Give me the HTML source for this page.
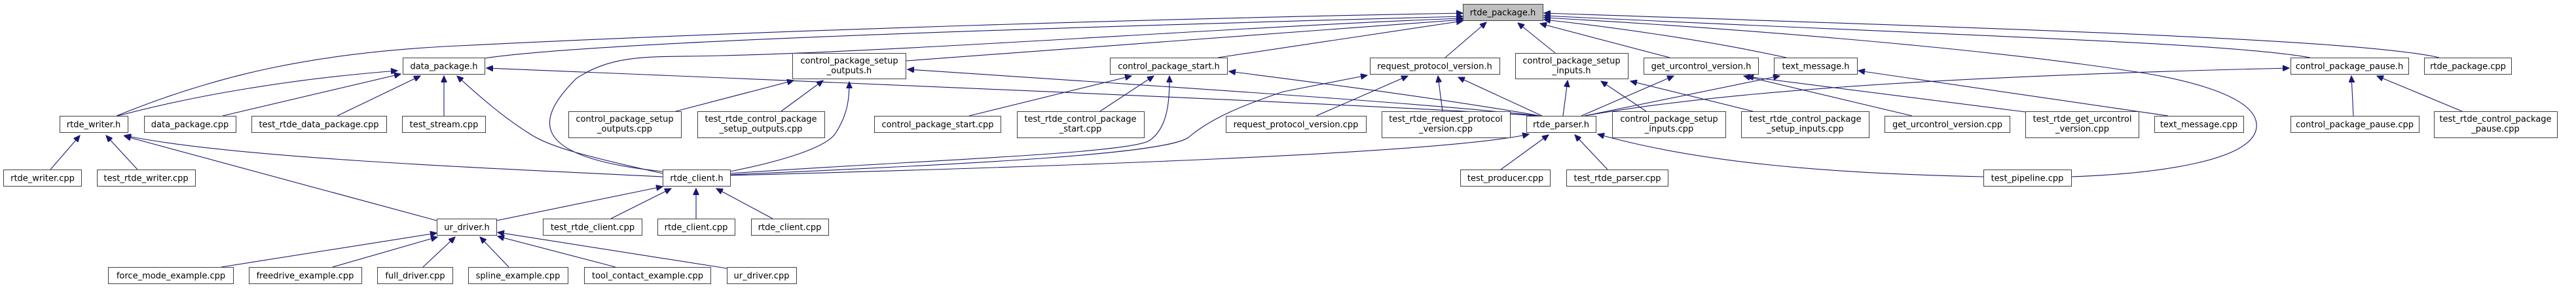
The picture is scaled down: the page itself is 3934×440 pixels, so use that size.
<!DOCTYPE html>
<html><head><meta charset="utf-8"><style>
html,body{margin:0;padding:0;background:#fff;}
svg{display:block;}
text{font-family:"DejaVu Sans","Liberation Sans",sans-serif;font-size:13px;fill:#000;}
rect{fill:#fff;stroke:#404040;stroke-width:1;}
path{fill:none;stroke:#191970;stroke-width:1.1;}
</style></head><body>
<svg width="3934" height="440" viewBox="0 0 3934 440" xmlns="http://www.w3.org/2000/svg">
<defs><marker id="a" markerWidth="11" markerHeight="9" refX="10" refY="4.5" orient="auto" markerUnits="userSpaceOnUse"><path d="M0,0 L10,4.5 L0,9 Z" style="fill:#191970;stroke:#191970"/></marker></defs>
<g marker-end="url(#a)">
<path d="M178,177 C330,115 480,80 700,70 C1200,45 1800,28 2234,20"/>
<path d="M180,177 C300,145 450,120 607,108"/>
<path d="M340,177 L612,113"/>
<path d="M515,177 L642,116"/>
<path d="M678,177 L678,116"/>
<path d="M740,89 C900,65 1500,45 2234,25"/>
<path d="M1012,265 C900,240 840,225 810,205 C770,180 735,150 698,116"/>
<path d="M1012,262 C800,240 820,180 880,120 C940,80 1000,88 1100,85 C1400,78 1900,40 2234,28"/>
<path d="M1012,270 C700,255 350,240 190,207"/>
<path d="M667,337 L190,208"/>
<path d="M77,259 L122,207"/>
<path d="M210,259 L162,207"/>
<path d="M758,337 L1012,285"/>
<path d="M933,334 L1025,288"/>
<path d="M1063,334 L1063,288"/>
<path d="M1180,334 L1094,288"/>
<path d="M338,408 L667,356"/>
<path d="M508,408 L668,362"/>
<path d="M646,408 L695,362"/>
<path d="M777,408 L733,362"/>
<path d="M940,408 L760,361"/>
<path d="M1110,410 L760,355"/>
<path d="M1032,170 L1212,123"/>
<path d="M1193,170 L1257,123"/>
<path d="M1115,262 C1200,245 1260,225 1275,205 C1295,175 1297,150 1297,125"/>
<path d="M1383,93 C1700,70 2000,45 2234,30"/>
<path d="M2350,177 C2200,160 1900,140 1386,106"/>
<path d="M2345,177 C2200,165 1500,135 743,104"/>
<path d="M1480,177 L1728,116"/>
<path d="M1680,170 L1762,116"/>
<path d="M1115,265 C1400,245 1720,235 1755,215 C1785,195 1786,150 1786,116"/>
<path d="M1860,88 L2234,32"/>
<path d="M2352,177 C2200,150 2000,125 1877,109"/>
<path d="M1115,267 C1500,250 1780,235 1815,210 C1850,180 1900,160 1960,140 L2088,115"/>
<path d="M1115,268 C1600,255 2200,235 2335,205"/>
<path d="M2010,177 L2150,116"/>
<path d="M2203,170 L2196,116"/>
<path d="M2355,177 L2227,118"/>
<path d="M2207,88 L2270,34"/>
<path d="M2375,81 L2318,35"/>
<path d="M2387,177 L2394,123"/>
<path d="M2514,170 L2445,124"/>
<path d="M2677,170 L2490,124"/>
<path d="M2550,88 L2352,36"/>
<path d="M2415,177 L2556,116"/>
<path d="M2920,177 L2663,116"/>
<path d="M3093,171 L2668,117"/>
<path d="M2728,88 C2600,60 2450,40 2358,30"/>
<path d="M2420,177 C2500,160 2600,140 2718,116"/>
<path d="M3311,177 L2838,108"/>
<path d="M3528,88 C3400,65 3000,55 2358,24"/>
<path d="M3725,88 C3600,60 3100,45 2358,20"/>
<path d="M2420,177 C2600,145 2900,118 3496,104"/>
<path d="M3594,177 L3591,116"/>
<path d="M3760,170 L3630,116"/>
<path d="M3163,270 C3300,265 3440,245 3446,195 C3452,140 3300,115 3250,108 C3000,70 2600,40 2358,27"/>
<path d="M3029,270 C2800,265 2600,250 2440,205"/>
<path d="M2292,259 L2365,206"/>
<path d="M2455,259 L2405,206"/>
</g>
<g text-anchor="middle">
<rect x="2234.5" y="6.5" width="122" height="25" style="fill:#bfbfbf"/><text x="2295" y="23.5">rtde_package.h</text>
<rect x="615.5" y="88.5" width="125" height="25"/><text x="678" y="105.5">data_package.h</text>
<rect x="91.5" y="177.5" width="104" height="25"/><text x="143" y="194.5">rtde_writer.h</text>
<rect x="220.5" y="177.5" width="140" height="25"/><text x="290" y="194.5">data_package.cpp</text>
<rect x="384.5" y="177.5" width="206" height="25"/><text x="487" y="194.5">test_rtde_data_package.cpp</text>
<rect x="614.5" y="177.5" width="127" height="25"/><text x="678" y="194.5">test_stream.cpp</text>
<rect x="5.5" y="259.5" width="119" height="25"/><text x="65" y="276.5">rtde_writer.cpp</text>
<rect x="148.5" y="259.5" width="150" height="25"/><text x="223" y="276.5">test_rtde_writer.cpp</text>
<rect x="165.5" y="408.5" width="191" height="25"/><text x="261" y="425.5">force_mode_example.cpp</text>
<rect x="380.5" y="408.5" width="172" height="25"/><text x="466" y="425.5">freedrive_example.cpp</text>
<rect x="576.5" y="408.5" width="115" height="25"/><text x="634" y="425.5">full_driver.cpp</text>
<rect x="667.5" y="334.5" width="91" height="25"/><text x="713" y="351.5">ur_driver.h</text>
<rect x="715.5" y="408.5" width="152" height="25"/><text x="791" y="425.5">spline_example.cpp</text>
<rect x="892.5" y="408.5" width="193" height="25"/><text x="989" y="425.5">tool_contact_example.cpp</text>
<rect x="1110.5" y="408.5" width="106" height="25"/><text x="1163" y="425.5">ur_driver.cpp</text>
<rect x="829.5" y="334.5" width="151" height="25"/><text x="905" y="351.5">test_rtde_client.cpp</text>
<rect x="1004.5" y="334.5" width="118" height="25"/><text x="1063" y="351.5">rtde_client.cpp</text>
<rect x="1147.5" y="334.5" width="118" height="25"/><text x="1206" y="351.5">rtde_client.cpp</text>
<rect x="1012.5" y="259.5" width="103" height="25"/><text x="1064" y="276.5">rtde_client.h</text>
<rect x="868.5" y="170.5" width="172" height="40"/><text x="954" y="186">control_package_setup</text><text x="954" y="201">_outputs.cpp</text>
<rect x="1065.5" y="170.5" width="194" height="40"/><text x="1162" y="186">test_rtde_control_package</text><text x="1162" y="201">_setup_outputs.cpp</text>
<rect x="1210.5" y="81.5" width="173" height="39"/><text x="1297" y="97">control_package_setup</text><text x="1297" y="112">_outputs.h</text>
<rect x="1335.5" y="177.5" width="193" height="25"/><text x="1432" y="194.5">control_package_start.cpp</text>
<rect x="1553.5" y="170.5" width="194" height="40"/><text x="1650" y="186">test_rtde_control_package</text><text x="1650" y="201">_start.cpp</text>
<rect x="1695.5" y="88.5" width="179" height="25"/><text x="1785" y="105.5">control_package_start.h</text>
<rect x="1872.5" y="177.5" width="214" height="25"/><text x="1979" y="194.5">request_protocol_version.cpp</text>
<rect x="2092.5" y="88.5" width="198" height="25"/><text x="2191" y="105.5">request_protocol_version.h</text>
<rect x="2314.5" y="81.5" width="172" height="39"/><text x="2400" y="97">control_package_setup</text><text x="2400" y="112">_inputs.h</text>
<rect x="2510.5" y="88.5" width="175" height="25"/><text x="2598" y="105.5">get_urcontrol_version.h</text>
<rect x="2110.5" y="170.5" width="196" height="40"/><text x="2208" y="186">test_rtde_request_protocol</text><text x="2208" y="201">_version.cpp</text>
<rect x="2331.5" y="177.5" width="106" height="25"/><text x="2384" y="194.5">rtde_parser.h</text>
<rect x="2462.5" y="170.5" width="173" height="40"/><text x="2549" y="186">control_package_setup</text><text x="2549" y="201">_inputs.cpp</text>
<rect x="2230.5" y="259.5" width="137" height="25"/><text x="2299" y="276.5">test_producer.cpp</text>
<rect x="2392.5" y="259.5" width="155" height="25"/><text x="2470" y="276.5">test_rtde_parser.cpp</text>
<rect x="2709.5" y="88.5" width="127" height="25"/><text x="2773" y="105.5">text_message.h</text>
<rect x="2659.5" y="170.5" width="195" height="40"/><text x="2757" y="186">test_rtde_control_package</text><text x="2757" y="201">_setup_inputs.cpp</text>
<rect x="2878.5" y="177.5" width="191" height="25"/><text x="2974" y="194.5">get_urcontrol_version.cpp</text>
<rect x="3093.5" y="170.5" width="173" height="40"/><text x="3180" y="186">test_rtde_get_urcontrol</text><text x="3180" y="201">_version.cpp</text>
<rect x="3029.5" y="259.5" width="134" height="25"/><text x="3096" y="276.5">test_pipeline.cpp</text>
<rect x="3290.5" y="177.5" width="136" height="25"/><text x="3358" y="194.5">text_message.cpp</text>
<rect x="3498.5" y="88.5" width="180" height="25"/><text x="3588" y="105.5">control_package_pause.h</text>
<rect x="3702.5" y="88.5" width="133" height="25"/><text x="3769" y="105.5">rtde_package.cpp</text>
<rect x="3498.5" y="177.5" width="196" height="25"/><text x="3596" y="194.5">control_package_pause.cpp</text>
<rect x="3717.5" y="170.5" width="188" height="40"/><text x="3811" y="186">test_rtde_control_package</text><text x="3811" y="201">_pause.cpp</text>
</g>
</svg>
</body></html>
